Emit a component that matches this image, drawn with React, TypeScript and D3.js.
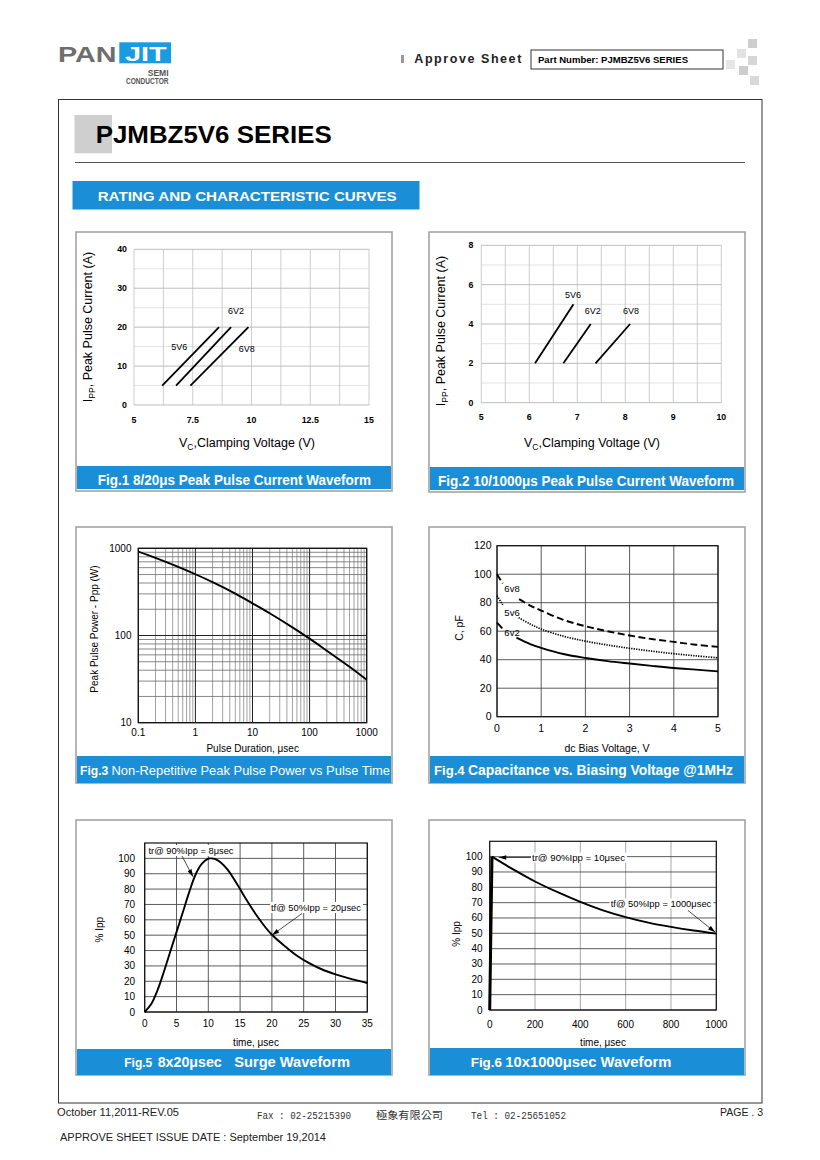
import React from "react";
import * as d3 from "d3";

const FONT = "'Liberation Sans', Arial, Helvetica, sans-serif";
const BLUE = "#1a8fd7";

// ---------- Fig.1 8/20us clamping
const fig1Series = ["5V6", "6V2", "6V8"];
const fig1VcStart = [6.2, 6.79, 7.4];
const fig1VcEnd = [8.62, 9.13, 9.87];
const fig1IppStart = [5, 5, 5];
const fig1IppEnd = [20, 20, 20];
const fig1LabelVc = [6.93, 9.34, 9.8];
const fig1LabelIpp = [15, 24.1, 14.3];
const fig1XTicks = [5, 7.5, 10, 12.5, 15];
const fig1YTicks = [0, 10, 20, 30, 40];

// ---------- Fig.2 10/1000us clamping
const fig2Series = ["5V6", "6V2", "6V8"];
const fig2VcStart = [6.12, 6.71, 7.38];
const fig2VcEnd = [6.92, 7.28, 8.1];
const fig2IppStart = [2, 2, 2];
const fig2IppEnd = [5, 4, 4];
const fig2LabelVc = [6.91, 7.32, 8.12];
const fig2LabelIpp = [5.47, 4.66, 4.66];
const fig2XTicks = [5, 6, 7, 8, 9, 10];
const fig2YTicks = [0, 2, 4, 6, 8];

// ---------- Fig.3 peak pulse power vs time
const fig3PulseTime = [0.1, 0.2, 0.5, 1, 2, 5, 10, 20, 50, 100, 200, 500, 1000];
const fig3Power = [916, 776, 612, 504, 409, 302, 234, 180, 124, 92, 67, 43.8, 31];
const fig3XTicks = [0.1, 1, 10, 100, 1000];
const fig3XTickLabels = ["0.1", "1", "10", "100", "1000"];
const fig3YTicks = [10, 100, 1000];

// ---------- Fig.4 capacitance vs bias
const fig4XTicks = [0, 1, 2, 3, 4, 5];
const fig4YTicks = [0, 20, 40, 60, 80, 100, 120];
const fig4Series = ["6v8", "5v6", "6v2"];
const fig4Bias6v8 = [0, 0.13, 0.5, 0.75, 1, 1.5, 2, 2.5, 3, 3.5, 4, 4.5, 5];
const fig4Cap6v8 = [100, 93.5, 82.5, 78, 74.5, 68, 63.5, 60, 57, 54.5, 52.5, 50.5, 49];
const fig4Bias5v6 = [0, 0.13, 0.49, 0.75, 1, 1.5, 2, 2.5, 3, 3.5, 4, 4.5, 5];
const fig4Cap5v6 = [85, 78.5, 69.5, 65, 61.5, 56.5, 53, 50.3, 48, 46, 44.2, 42.7, 41.3];
const fig4Bias6v2 = [0, 0.12, 0.44, 0.75, 1, 1.5, 2, 2.5, 3, 3.5, 4, 4.5, 5];
const fig4Cap6v2 = [66, 62, 55.5, 51, 48.3, 44, 41.2, 39, 37.3, 35.7, 34.2, 33, 31.8];
const fig4LabelBias = [0.34, 0.34, 0.34];
const fig4LabelCap = [90, 73, 59];

// ---------- Fig.5 8x20us surge
const fig5Time = [0, 1, 2, 3, 4, 5, 6, 7, 8, 9, 10, 10.5, 11, 12, 13, 14, 15, 16, 17, 18, 19, 20, 22, 24, 26, 28, 30, 32, 35];
const fig5Ipp = [0, 5, 14, 26, 39, 52, 65, 78, 89.5, 96.5, 99.8, 100, 99.6, 97.2, 92.8, 86.8, 80, 73, 66.5, 60.5, 55, 50.3, 43, 36.5, 31.5, 27.5, 24.5, 22, 18.8];
const fig5XTicks = [0, 5, 10, 15, 20, 25, 30, 35];
const fig5YTicks = [0, 10, 20, 30, 40, 50, 60, 70, 80, 90, 100];

// ---------- Fig.6 10x1000us
const fig6Time = [0, 10, 100, 200, 300, 400, 500, 600, 700, 800, 900, 1000];
const fig6Ipp = [0, 100, 92, 83.8, 76.8, 70.5, 65, 60.6, 57, 54.2, 51.8, 49.8];
const fig6XTicks = [0, 200, 400, 600, 800, 1000];
const fig6YTicks = [0, 10, 20, 30, 40, 50, 60, 70, 80, 90, 100];

type Part = { t: string; x1: number; x2: number; size: number; bold: boolean };

function Panel({ x, y, w, h, barY, barH, parts, textY }: any) {
  return (
    <g>
      <rect x={x} y={y} width={w} height={h} fill="#fff" stroke="#a3a3a3" strokeWidth={1.6} />
      <rect x={x + 1} y={barY} width={w - 2} height={barH} fill={BLUE} />
      {(parts as Part[]).map((p, i) => (
        <text key={i} x={p.x1} y={textY} fontSize={p.size} fontWeight={p.bold ? "bold" : "normal"} fill="#fff"
          textLength={p.x2 - p.x1} lengthAdjust="spacingAndGlyphs">{p.t}</text>
      ))}
    </g>
  );
}

function Fig1() {
  const x = d3.scaleLinear().domain([5, 15]).range([134, 369]);
  const y = d3.scaleLinear().domain([0, 40]).range([405, 249.3]);
  const vGrid = d3.range(5, 15.001, 1.25);
  const hMinor = d3.range(5, 40, 10);
  return (
    <g>
      <Panel x={76} y={232} w={316} h={259} barY={466} barH={23} textY={485}
        parts={[{ t: "Fig.1 8/20μs Peak Pulse Current Waveform", x1: 97.7, x2: 371, size: 14, bold: true }]} />
      {hMinor.map(v => <line key={"m" + v} x1={x(5)} x2={x(15)} y1={y(v)} y2={y(v)} stroke="#e3e3e3" />)}
      {vGrid.map(v => <line key={v} x1={x(v)} x2={x(v)} y1={y(0)} y2={y(40)} stroke="#cdcdcd" />)}
      {fig1YTicks.map(v => <line key={"M" + v} x1={x(5)} x2={x(15)} y1={y(v)} y2={y(v)} stroke="#bdbdbd" />)}
      {fig1Series.map((s, i) => (
        <line key={s} x1={x(fig1VcStart[i])} y1={y(fig1IppStart[i])} x2={x(fig1VcEnd[i])} y2={y(fig1IppEnd[i])}
          stroke="#000" strokeWidth={1.8} />
      ))}
      {fig1Series.map((s, i) => (
        <text key={"l" + s} x={x(fig1LabelVc[i])} y={y(fig1LabelIpp[i]) + 3} fontSize={9} textAnchor="middle">{s}</text>
      ))}
      {fig1YTicks.map(v => <text key={"yt" + v} x={x(5) - 7} y={y(v) + 3} fontSize={8.8} fontWeight="bold" textAnchor="end">{v}</text>)}
      {fig1XTicks.map(v => <text key={"xt" + v} x={x(v)} y={423} fontSize={8.8} fontWeight="bold" textAnchor="middle">{v}</text>)}
      <text transform="translate(92,327) rotate(-90)" fontSize={12.5} textAnchor="middle">
        I<tspan fontSize={8.5} dy={3}>PP</tspan><tspan dy={-3}>, Peak Pulse Current (A)</tspan>
      </text>
      <text x={247} y={447} fontSize={12.5} textAnchor="middle">
        V<tspan fontSize={8.5} dy={3}>C</tspan><tspan dy={-3}>,Clamping Voltage (V)</tspan>
      </text>
    </g>
  );
}

function Fig2() {
  const x = d3.scaleLinear().domain([5, 10]).range([481.3, 721.3]);
  const y = d3.scaleLinear().domain([0, 8]).range([402.7, 245.3]);
  const vGrid = d3.range(5, 10.001, 0.5);
  const hMinor = d3.range(1, 8, 2);
  return (
    <g>
      <Panel x={429} y={232} w={316} h={260} barY={467} barH={23} textY={486}
        parts={[{ t: "Fig.2 10/1000μs Peak Pulse Current Waveform", x1: 438, x2: 734, size: 14, bold: true }]} />
      {hMinor.map(v => <line key={"m" + v} x1={x(5)} x2={x(10)} y1={y(v)} y2={y(v)} stroke="#e3e3e3" />)}
      {vGrid.map(v => <line key={v} x1={x(v)} x2={x(v)} y1={y(0)} y2={y(8)} stroke="#cdcdcd" />)}
      {fig2YTicks.map(v => <line key={"M" + v} x1={x(5)} x2={x(10)} y1={y(v)} y2={y(v)} stroke="#bdbdbd" />)}
      {fig2Series.map((s, i) => (
        <line key={s} x1={x(fig2VcStart[i])} y1={y(fig2IppStart[i])} x2={x(fig2VcEnd[i])} y2={y(fig2IppEnd[i])}
          stroke="#000" strokeWidth={1.8} />
      ))}
      {fig2Series.map((s, i) => (
        <text key={"l" + s} x={x(fig2LabelVc[i])} y={y(fig2LabelIpp[i]) + 3} fontSize={9} textAnchor="middle">{s}</text>
      ))}
      {fig2YTicks.map(v => <text key={"yt" + v} x={x(5) - 8} y={y(v) + 3} fontSize={8.8} fontWeight="bold" textAnchor="end">{v}</text>)}
      {fig2XTicks.map(v => <text key={"xt" + v} x={x(v)} y={420} fontSize={8.8} fontWeight="bold" textAnchor="middle">{v}</text>)}
      <text transform="translate(445,331) rotate(-90)" fontSize={12.5} textAnchor="middle">
        I<tspan fontSize={8.5} dy={3}>PP</tspan><tspan dy={-3}>, Peak Pulse Current (A)</tspan>
      </text>
      <text x={592} y={447} fontSize={12.5} textAnchor="middle">
        V<tspan fontSize={8.5} dy={3}>C</tspan><tspan dy={-3}>,Clamping Voltage (V)</tspan>
      </text>
    </g>
  );
}

function Fig3() {
  const x = d3.scaleLog().domain([0.1, 1000]).range([138.3, 366.7]);
  const y = d3.scaleLog().domain([10, 1000]).range([722.7, 548.3]);
  const xMinor = [0.1, 1, 10, 100].flatMap(d => d3.range(2, 10).map(k => k * d));
  const yMinor = [10, 100].flatMap(d => d3.range(2, 10).map(k => k * d));
  const line = d3.line<number>().x((_, i) => x(fig3PulseTime[i])).y(d => y(d)).curve(d3.curveCatmullRom.alpha(0.5));
  return (
    <g>
      <Panel x={76} y={527} w={316} h={256} barY={756} barH={27} textY={775}
        parts={[
          { t: "Fig.3", x1: 80, x2: 108.3, size: 12, bold: true },
          { t: "Non-Repetitive Peak Pulse Power vs Pulse Time", x1: 111.5, x2: 390, size: 13.5, bold: false },
        ]} />
      {xMinor.map(v => <line key={"xm" + v} x1={x(v)} x2={x(v)} y1={y(10)} y2={y(1000)} stroke="#8a8a8a" strokeWidth={0.8} />)}
      {yMinor.map(v => <line key={"ym" + v} x1={x(0.1)} x2={x(1000)} y1={y(v)} y2={y(v)} stroke="#6a6a6a" strokeWidth={0.8} />)}
      {fig3XTicks.map(v => <line key={"xM" + v} x1={x(v)} x2={x(v)} y1={y(10)} y2={y(1000)} stroke="#222" strokeWidth={1} />)}
      {fig3YTicks.map(v => <line key={"yM" + v} x1={x(0.1)} x2={x(1000)} y1={y(v)} y2={y(v)} stroke="#222" strokeWidth={1} />)}
      <rect x={x(0.1)} y={y(1000)} width={x(1000) - x(0.1)} height={y(10) - y(1000)} fill="none" stroke="#111" strokeWidth={1.2} />
      <path d={line(fig3Power) || ""} fill="none" stroke="#000" strokeWidth={1.9} />
      {fig3YTicks.map(v => <text key={"yt" + v} x={131.5} y={y(v) + 3.5} fontSize={10} textAnchor="end">{v}</text>)}
      {fig3XTicks.map((v, i) => <text key={"xt" + v} x={x(v)} y={736} fontSize={10} textAnchor="middle">{fig3XTickLabels[i]}</text>)}
      <text transform="translate(98,629) rotate(-90)" fontSize={10} textAnchor="middle">Peak Pulse Power - Ppp (W)</text>
      <text x={252.7} y={751.5} fontSize={10} textAnchor="middle">Pulse Duration, μsec</text>
    </g>
  );
}

function Fig4() {
  const x = d3.scaleLinear().domain([0, 5]).range([497, 718]);
  const y = d3.scaleLinear().domain([0, 120]).range([716.7, 545.7]);
  const biases = [fig4Bias6v8, fig4Bias5v6, fig4Bias6v2];
  const caps = [fig4Cap6v8, fig4Cap5v6, fig4Cap6v2];
  const dashes = ["7,3.5", "1.3,1.2", "none"];
  const widths = [1.9, 1.7, 1.9];
  return (
    <g>
      <Panel x={429} y={527} w={316} h={256} barY={756} barH={27} textY={775}
        parts={[
          { t: "Fig.4", x1: 434, x2: 464.7, size: 12, bold: true },
          { t: "Capacitance vs. Biasing Voltage @1MHz", x1: 468, x2: 733, size: 14, bold: true },
        ]} />
      {fig4XTicks.map(v => <line key={"xg" + v} x1={x(v)} x2={x(v)} y1={y(0)} y2={y(120)} stroke="#4a4a4a" strokeWidth={0.9} />)}
      {fig4YTicks.map(v => <line key={"yg" + v} x1={x(0)} x2={x(5)} y1={y(v)} y2={y(v)} stroke="#4a4a4a" strokeWidth={0.9} />)}
      <rect x={x(0)} y={y(120)} width={x(5) - x(0)} height={y(0) - y(120)} fill="none" stroke="#111" strokeWidth={1.2} />
      {fig4Series.map((s, k) => {
        const pts = biases[k].map((b, i) => [b, caps[k][i]] as [number, number]);
        const ln = d3.line<[number, number]>().x(d => x(d[0])).y(d => y(d[1])).curve(d3.curveCatmullRom.alpha(0.5));
        return (
          <g key={s}>
            <path d={ln(pts.slice(0, 2)) || ""} fill="none" stroke="#000" strokeWidth={widths[k]} strokeDasharray={dashes[k]} />
            <path d={ln(pts.slice(2)) || ""} fill="none" stroke="#000" strokeWidth={widths[k]} strokeDasharray={dashes[k]} />
            <text x={x(fig4LabelBias[k])} y={y(fig4LabelCap[k]) + 3.3} fontSize={9.5} textAnchor="middle">{s}</text>
          </g>
        );
      })}
      {fig4YTicks.map(v => <text key={"yt" + v} x={491.5} y={y(v) + 3.5} fontSize={10.5} textAnchor="end">{v}</text>)}
      {fig4XTicks.map(v => <text key={"xt" + v} x={x(v)} y={731.5} fontSize={10.5} textAnchor="middle">{v}</text>)}
      <text transform="translate(463,628) rotate(-90)" fontSize={10.5} textAnchor="middle">C, pF</text>
      <text x={607} y={751.5} fontSize={10.5} textAnchor="middle">dc Bias Voltage, V</text>
    </g>
  );
}

function Fig5() {
  const x = d3.scaleLinear().domain([0, 35]).range([144.7, 367.3]);
  const y = d3.scaleLinear().domain([0, 110]).range([1012, 843]);
  const line = d3.line<number>().x((_, i) => x(fig5Time[i])).y(d => y(d)).curve(d3.curveCatmullRom.alpha(0.5));
  const trTip: [number, number] = [x(7.6), y(88)];
  const tfTip: [number, number] = [x(20), y(50)];
  return (
    <g>
      <Panel x={76} y={820} w={316} h={255} barY={1049} barH={26} textY={1067}
        parts={[
          { t: "Fig.5", x1: 124.3, x2: 152.3, size: 13, bold: true },
          { t: "8x20μsec", x1: 157.7, x2: 221.7, size: 14, bold: true },
          { t: "Surge Waveform", x1: 234.3, x2: 350, size: 14, bold: true },
        ]} />
      {fig5XTicks.map(v => <line key={"xg" + v} x1={x(v)} x2={x(v)} y1={y(0)} y2={y(110)} stroke="#4a4a4a" strokeWidth={0.9} />)}
      {fig5YTicks.map(v => <line key={"yg" + v} x1={x(0)} x2={x(35)} y1={y(v)} y2={y(v)} stroke="#4a4a4a" strokeWidth={0.9} />)}
      <rect x={x(0)} y={y(110)} width={x(35) - x(0)} height={y(0) - y(110)} fill="none" stroke="#111" strokeWidth={1.2} />
      <path d={line(fig5Ipp) || ""} fill="none" stroke="#000" strokeWidth={1.9} />
      <rect x={147} y={845} width={89} height={11} fill="#fff" />
      <text x={148.5} y={853.5} fontSize={8.8} textLength={85} lengthAdjust="spacingAndGlyphs">tr@ 90%Ipp = 8μsec</text>
      <line x1={182} y1={856} x2={trTip[0]} y2={trTip[1]} stroke="#000" strokeWidth={0.7} markerEnd="url(#arrow)" />
      <rect x={270} y={902} width={93} height={11} fill="#fff" />
      <text x={271} y={911} fontSize={8.8} textLength={90} lengthAdjust="spacingAndGlyphs">tf@ 50%Ipp = 20μsec</text>
      <line x1={302} y1={913.5} x2={tfTip[0]} y2={tfTip[1]} stroke="#000" strokeWidth={0.7} markerEnd="url(#arrow)" />
      {fig5YTicks.map(v => <text key={"yt" + v} x={135} y={y(v) + 3.5} fontSize={10} textAnchor="end">{v}</text>)}
      {fig5XTicks.map(v => <text key={"xt" + v} x={x(v)} y={1026.5} fontSize={10} textAnchor="middle">{v}</text>)}
      <text transform="translate(103,929.7) rotate(-90)" fontSize={10} textAnchor="middle">% Ipp</text>
      <text x={256} y={1045.5} fontSize={10} textAnchor="middle">time, μsec</text>
    </g>
  );
}

function Fig6() {
  const x = d3.scaleLinear().domain([0, 1000]).range([489.7, 716.3]);
  const y = d3.scaleLinear().domain([0, 110]).range([1010, 841.3]);
  const line = d3.line<number>().x((_, i) => x(fig6Time[i])).y(d => y(d));
  const decayT = fig6Time.slice(1);
  const decayLine = d3.line<number>().x((_, i) => x(decayT[i])).y(d => y(d)).curve(d3.curveCatmullRom.alpha(0.5));
  const trTip: [number, number] = [x(40), y(99.5)];
  const tfTip: [number, number] = [x(1000), y(50)];
  return (
    <g>
      <Panel x={429} y={820} w={316} h={255} barY={1048} barH={27} textY={1067}
        parts={[
          { t: "Fig.6", x1: 470.7, x2: 502, size: 13, bold: true },
          { t: "10x1000μsec Waveform", x1: 505.3, x2: 671.3, size: 14, bold: true },
        ]} />
      {fig6XTicks.map(v => <line key={"xg" + v} x1={x(v)} x2={x(v)} y1={y(0)} y2={y(110)} stroke="#a8a8a8" strokeWidth={1} />)}
      {fig6YTicks.map(v => <line key={"yg" + v} x1={x(0)} x2={x(1000)} y1={y(v)} y2={y(v)} stroke="#4a4a4a" strokeWidth={0.9} />)}
      <rect x={x(0)} y={y(110)} width={x(1000) - x(0)} height={y(0) - y(110)} fill="none" stroke="#111" strokeWidth={1.2} />
      <path d={line(fig6Ipp.slice(0, 2)) || ""} fill="none" stroke="#000" strokeWidth={3} />
      <path d={decayLine(fig6Ipp.slice(1)) || ""} fill="none" stroke="#000" strokeWidth={1.9} />
      <rect x={531} y={852.5} width={96} height={10} fill="#fff" />
      <text x={532} y={860.5} fontSize={8.8} textLength={93} lengthAdjust="spacingAndGlyphs">tr@ 90%Ipp = 10μsec</text>
      <line x1={531} y1={857.5} x2={trTip[0]} y2={857.5} stroke="#000" strokeWidth={0.7} markerEnd="url(#arrow)" />
      <rect x={609.5} y={898.5} width={104} height={10} fill="#fff" />
      <text x={610.7} y={906.5} fontSize={8.8} textLength={100.6} lengthAdjust="spacingAndGlyphs">tf@ 50%Ipp = 1000μsec</text>
      <line x1={688} y1={910.5} x2={tfTip[0] - 1} y2={tfTip[1] - 1} stroke="#000" strokeWidth={0.7} markerEnd="url(#arrow)" />
      {fig6YTicks.map(v => <text key={"yt" + v} x={482.5} y={y(v) + 3.5} fontSize={10} textAnchor="end">{v}</text>)}
      {fig6XTicks.map(v => <text key={"xt" + v} x={x(v)} y={1027.5} fontSize={10} textAnchor="middle">{v}</text>)}
      <text transform="translate(459.5,934) rotate(-90)" fontSize={10} textAnchor="middle">% Ipp</text>
      <text x={603} y={1045.5} fontSize={10} textAnchor="middle">time, μsec</text>
    </g>
  );
}

function Header() {
  const squares: [number, number, string][] = [
    [748, 39, "#cfcfcf"], [737, 49, "#e2e2e2"], [748, 56, "#d6d6d6"],
    [726, 60, "#e6e6e6"], [739, 66, "#cdcdcd"], [750, 76, "#d9d9d9"],
  ];
  return (
    <g>
      <text x={58} y={61.7} fontSize={22} fontWeight="bold" fill="#6e6e6e" textLength={58.5} lengthAdjust="spacingAndGlyphs">PAN</text>
      <rect x={119.3} y={42.3} width={51.7} height={21} fill="#1a9be0" />
      <text x={125} y={61} fontSize={20} fontWeight="bold" fill="#fff" textLength={41.7} lengthAdjust="spacingAndGlyphs">JIT</text>
      <text x={168.5} y={75.7} fontSize={8.5} fontWeight="bold" fill="#555" textAnchor="end">SEMI</text>
      <text x={168.5} y={83.5} fontSize={8.5} fontWeight="bold" fill="#555" textAnchor="end" textLength={42.5} lengthAdjust="spacingAndGlyphs">CONDUCTOR</text>
      <rect x={401} y={55} width={3} height={8} fill="#9a9a9a" />
      <text x={414.3} y={63.3} fontSize={12.5} fontWeight="bold" fill="#222" textLength={107} lengthAdjust="spacing">Approve Sheet</text>
      <rect x={531} y={50} width={192} height={19} fill="#fff" stroke="#333" strokeWidth={1} />
      <text x={538} y={63} fontSize={9.5} fontWeight="bold" fill="#000" textLength={150} lengthAdjust="spacingAndGlyphs">Part Number: PJMBZ5V6 SERIES</text>
      {squares.map(([sx, sy, c], i) => <rect key={i} x={sx} y={sy} width={9} height={9} fill={c} />)}
      <rect x={58.5} y={99.5} width={703.5} height={1003.5} fill="none" stroke="#333" strokeWidth={1} />
      <rect x={74.5} y={115} width={37.5} height={38.3} fill="#cfcfcf" />
      <text x={95.7} y={143.3} fontSize={23} fontWeight="bold" fill="#000" textLength={236} lengthAdjust="spacingAndGlyphs">PJMBZ5V6 SERIES</text>
      <line x1={75} x2={745} y1={162.5} y2={162.5} stroke="#555" strokeWidth={1.2} />
      <rect x={72.5} y={181} width={347} height={28.5} fill={BLUE} />
      <text x={97.7} y={200.5} fontSize={12.5} fontWeight="bold" fill="#fff" textLength={299} lengthAdjust="spacingAndGlyphs">RATING AND CHARACTERISTIC CURVES</text>
    </g>
  );
}

function Footer() {
  return (
    <g>
      <text x={57} y={1116} fontSize={10} fill="#222" textLength={122} lengthAdjust="spacingAndGlyphs">October 11,2011-REV.05</text>
      <text x={257} y={1119} fontSize={10.5} fill="#333" fontFamily="'Liberation Mono', 'DejaVu Sans Mono', monospace" textLength={94} lengthAdjust="spacingAndGlyphs">Fax : 02-25215390</text>
      <text x={376} y={1119} fontSize={10.5} fill="#333" fontFamily="'Noto Sans CJK TC', 'Noto Sans CJK SC', sans-serif" textLength={67} lengthAdjust="spacingAndGlyphs">極象有限公司</text>
      <text x={471} y={1119} fontSize={10.5} fill="#333" fontFamily="'Liberation Mono', 'DejaVu Sans Mono', monospace" textLength={95} lengthAdjust="spacingAndGlyphs">Tel : 02-25651052</text>
      <text x={763} y={1116} fontSize={10.5} fill="#222" textAnchor="end">PAGE . 3</text>
      <text x={60} y={1141} fontSize={10} fill="#222" textLength={266} lengthAdjust="spacingAndGlyphs">APPROVE SHEET ISSUE DATE : September 19,2014</text>
    </g>
  );
}

export default function App() {
  return (
    <svg width={820} height={1160} style={{ position: "absolute", left: 0, top: 0, display: "block" }} fontFamily={FONT}>
      <defs>
        <marker id="arrow" viewBox="0 0 10 6" refX={10} refY={3} markerWidth={8} markerHeight={4.5} markerUnits="userSpaceOnUse" orient="auto">
          <path d="M0,0 L10,3 L0,6 z" fill="#000" />
        </marker>
      </defs>
      <rect width={820} height={1160} fill="#fff" />
      <Header />
      <Fig1 />
      <Fig2 />
      <Fig3 />
      <Fig4 />
      <Fig5 />
      <Fig6 />
      <Footer />
    </svg>
  );
}
